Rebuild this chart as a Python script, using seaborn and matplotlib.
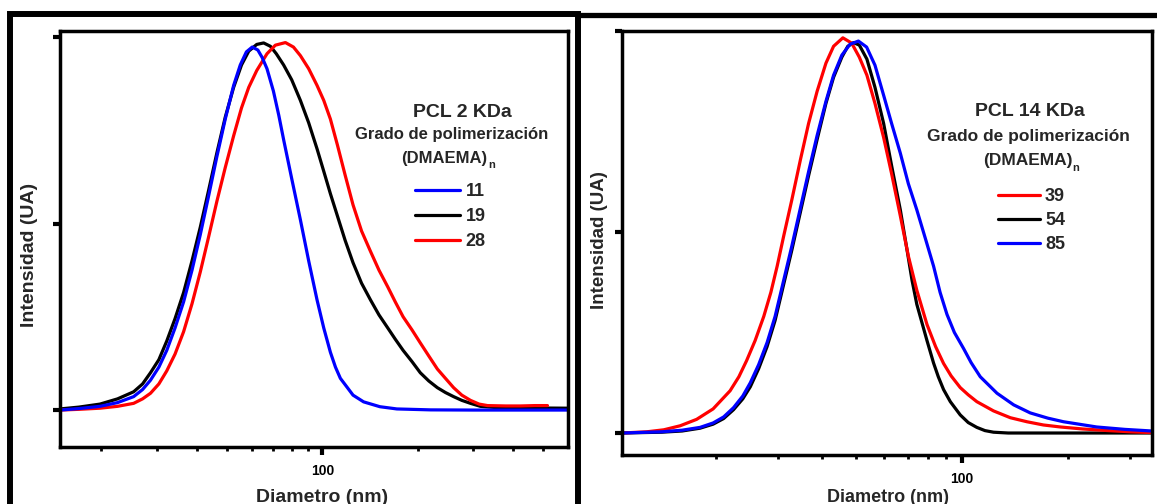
import numpy as np
import pandas as pd
import matplotlib
matplotlib.use("Agg")
import matplotlib.pyplot as plt
import seaborn as sns
from matplotlib.ticker import LogLocator, NullFormatter, FuncFormatter, FixedLocator
from matplotlib.lines import Line2D
from matplotlib.patches import Rectangle

# ---------------- data ----------------
# Left panel: PCL 2 KDa  (diameter nm, intensity a.u.)
d_11 = [14.8, 17.0, 19.8, 22.5, 25.3, 27.0, 28.6, 30.4, 32.2, 34.2, 36.4, 38.7, 41.1, 43.7, 46.4, 49.3,
        52.4, 55.0, 57.5, 60.0, 62.5, 64.5, 66.8, 70.0, 72.8, 75.4, 80.0, 85.2, 90.5, 96.2, 101, 106,
        110, 114, 120, 125, 135, 152, 172, 220, 300, 600]
i_11 = [0.0, 0.004, 0.010, 0.020, 0.036, 0.055, 0.080, 0.115, 0.16, 0.22, 0.29, 0.375, 0.47, 0.575, 0.68, 0.78,
        0.87, 0.925, 0.96, 0.973, 0.965, 0.945, 0.915, 0.855, 0.79, 0.725, 0.62, 0.51, 0.40, 0.295, 0.22, 0.155,
        0.115, 0.085, 0.06, 0.04, 0.022, 0.009, 0.003, 0.0005, 0.0, 0.0]

d_19 = [14.8, 17.0, 19.8, 22.5, 25.3, 27.0, 28.6, 30.4, 32.2, 34.2, 36.4, 38.7, 41.1, 43.7, 46.4, 49.3,
        52.4, 55.5, 58.5, 62.0, 65.2, 68.5, 71.5, 75.4, 80.0, 85.2, 90.5, 96.2, 101, 106, 111.6, 118,
        125, 133, 142, 151, 161, 170, 180, 192, 204, 217, 231, 245, 260, 276, 294, 316, 350, 400, 600]
i_19 = [0.003, 0.008, 0.016, 0.030, 0.049, 0.070, 0.10, 0.135, 0.185, 0.245, 0.315, 0.40, 0.49, 0.59, 0.69, 0.785,
        0.865, 0.925, 0.962, 0.98, 0.984, 0.975, 0.955, 0.925, 0.885, 0.83, 0.77, 0.70, 0.64, 0.58, 0.52, 0.455,
        0.395, 0.34, 0.295, 0.255, 0.22, 0.19, 0.16, 0.13, 0.10, 0.078, 0.06, 0.047, 0.036, 0.026, 0.018, 0.01,
        0.007, 0.006, 0.005]

d_28 = [14.8, 17.0, 19.8, 22.5, 25.3, 27.0, 28.6, 30.4, 32.2, 34.2, 36.4, 38.7, 41.1, 43.7, 46.4, 49.3,
        52.4, 55.5, 58.5, 62.0, 66.8, 71.0, 76.4, 81.0, 85.2, 90.5, 96.2, 101, 106, 111.6, 118, 125,
        133, 142, 151, 161, 170, 180, 192, 204, 217, 231, 245, 260, 276, 294, 313, 333, 380, 423, 470, 515]
i_28 = [0.0, 0.002, 0.005, 0.010, 0.018, 0.030, 0.045, 0.07, 0.105, 0.15, 0.21, 0.285, 0.37, 0.465, 0.56, 0.65,
        0.735, 0.81, 0.865, 0.91, 0.955, 0.978, 0.985, 0.973, 0.95, 0.915, 0.87, 0.83, 0.78, 0.71, 0.63, 0.55,
        0.48, 0.425, 0.375, 0.33, 0.29, 0.25, 0.215, 0.18, 0.145, 0.11, 0.085, 0.06, 0.04, 0.026, 0.016, 0.012,
        0.011, 0.011, 0.012, 0.012]

# Right panel: PCL 14 KDa
d_39 = [10.8, 12.7, 14.2, 15.8, 17.6, 19.6, 21.9, 23.2, 24.4, 25.8, 27.3, 28.6, 29.8, 31.1, 32.8, 34.7,
        36.6, 38.7, 41.0, 43.1, 45.8, 48.5, 51.0, 53.6, 56.5, 59.8, 63.0, 66.7, 70.3, 74.3, 79.4, 84.0,
        88.5, 93.0, 98.7, 104, 110, 122.7, 137, 152.7, 170, 190, 220, 260, 300, 346]
i_39 = [0.0, 0.003, 0.008, 0.018, 0.034, 0.06, 0.105, 0.14, 0.18, 0.23, 0.29, 0.35, 0.415, 0.49, 0.58, 0.68,
        0.77, 0.85, 0.92, 0.962, 0.983, 0.97, 0.935, 0.89, 0.82, 0.735, 0.645, 0.54, 0.44, 0.355, 0.27, 0.215,
        0.173, 0.142, 0.113, 0.095, 0.078, 0.055, 0.038, 0.028, 0.02, 0.015, 0.01, 0.006, 0.003, 0.001]

d_54 = [10.8, 14.0, 16.0, 18.0, 19.6, 21.0, 22.4, 23.8, 25.0, 26.4, 27.9, 29.4, 31.1, 32.8, 34.7, 36.6,
        38.7, 41.0, 43.1, 45.5, 47.3, 49.1, 51.0, 53.6, 56.5, 59.8, 63.0, 66.7, 69.7, 72.0, 74.3, 79.4,
        82.9, 85.5, 88.5, 92.5, 98.7, 104, 110, 116, 122.7, 135, 346]
i_54 = [0.0, 0.002, 0.005, 0.012, 0.022, 0.036, 0.058, 0.085, 0.115, 0.16, 0.215, 0.28, 0.37, 0.455, 0.55, 0.64,
        0.73, 0.82, 0.885, 0.935, 0.962, 0.971, 0.965, 0.93, 0.86, 0.77, 0.665, 0.555, 0.455, 0.38, 0.32, 0.23,
        0.174, 0.14, 0.108, 0.078, 0.045, 0.026, 0.014, 0.006, 0.002, 0.0, 0.0]

d_85 = [10.8, 14.0, 16.0, 18.0, 19.6, 21.0, 22.4, 23.8, 25.0, 26.4, 27.9, 29.4, 31.1, 32.8, 34.7, 36.6,
        38.7, 41.0, 43.1, 45.5, 48.0, 50.7, 53.5, 56.5, 59.8, 63.0, 66.7, 70.3, 74.3, 78.5, 82.9, 86.5,
        90.5, 95.0, 100.9, 106, 112.5, 125.5, 140, 156, 175, 194, 241, 290, 346]
i_85 = [0.0, 0.003, 0.007, 0.014, 0.025, 0.04, 0.063, 0.092, 0.125, 0.17, 0.225, 0.29, 0.38, 0.465, 0.56, 0.65,
        0.74, 0.825, 0.89, 0.94, 0.967, 0.975, 0.96, 0.915, 0.84, 0.77, 0.696, 0.62, 0.555, 0.485, 0.415, 0.35,
        0.295, 0.25, 0.21, 0.175, 0.14, 0.099, 0.07, 0.05, 0.037, 0.028, 0.015, 0.009, 0.005]

left_labels = ["11", "19", "28"]
right_labels = ["39", "54", "85"]

# ---------------- style ----------------
sns.set_theme(style="white")
plt.rcParams['font.family'] = ['Liberation Sans', 'DejaVu Sans']
plt.rcParams['font.weight'] = 'bold'
plt.rcParams['axes.labelweight'] = 'bold'

W, H = 1157, 504
fig = plt.figure(figsize=(W / 100, H / 100), dpi=100)
fig.patch.set_facecolor('white')


def fx(x):
    return x / W


def fy(y):
    return 1 - y / H


axL = fig.add_axes([fx(60), fy(447), fx(568) - fx(60), fy(31) - fy(447)])
axR = fig.add_axes([fx(622), fy(455), fx(1152) - fx(622), fy(31) - fy(455)])

LW = 2.3
colors = {"blue": "#0000FF", "black": "#000000", "red": "#FF0000"}

# Left panel curves (draw order: black, red, blue)
sns.lineplot(x=d_19, y=i_19, ax=axL, color=colors["black"], lw=LW, label=left_labels[1], sort=False, estimator=None)
sns.lineplot(x=d_28, y=i_28, ax=axL, color=colors["red"], lw=LW, label=left_labels[2], sort=False, estimator=None)
sns.lineplot(x=d_11, y=i_11, ax=axL, color=colors["blue"], lw=LW, label=left_labels[0], sort=False, estimator=None)

# Right panel curves
sns.lineplot(x=d_54, y=i_54, ax=axR, color=colors["black"], lw=LW, label=right_labels[1], sort=False, estimator=None)
sns.lineplot(x=d_39, y=i_39, ax=axR, color=colors["red"], lw=LW, label=right_labels[0], sort=False, estimator=None)
sns.lineplot(x=d_85, y=i_85, ax=axR, color=colors["blue"], lw=LW, label=right_labels[2], sort=False, estimator=None)


def style_axis(ax, xlim, ylim):
    ax.set_xscale('log')
    ax.set_xlim(*xlim)
    ax.set_ylim(*ylim)
    ax.set_xlabel('')
    ax.set_ylabel('')
    ax.xaxis.set_major_locator(FixedLocator([100]))
    ax.xaxis.set_major_formatter(FuncFormatter(lambda v, p: f"{v:g}"))
    ax.xaxis.set_minor_locator(LogLocator(base=10, subs=np.arange(2, 10)))
    ax.xaxis.set_minor_formatter(NullFormatter())
    ax.set_yticks([0, 0.5, 1.0])
    ax.tick_params(axis='y', which='major', direction='out', length=5, width=3, left=True,
                   labelleft=False, color='black')
    ax.tick_params(axis='x', which='major', direction='out', length=5.5, width=3, bottom=True,
                   labelsize=10, pad=7, color='black', labelcolor='black')
    ax.tick_params(axis='x', which='minor', direction='out', length=3, width=2, bottom=True, color='black')
    for s in ax.spines.values():
        s.set_visible(True)
        s.set_color('black')
        s.set_linewidth(2.5)
    ax.set_facecolor('white')


style_axis(axL, (14.8, 598), (-0.099, 1.016))
style_axis(axR, (10.8, 346), (-0.0547, 1.0))

# ---------------- legends ----------------
hL, lL = axL.get_legend_handles_labels()
orderL = [lL.index(x) for x in left_labels]
axL.legend([hL[i] for i in orderL], [lL[i] for i in orderL], loc='upper left',
           bbox_to_anchor=(fx(415), fy(183)), bbox_transform=fig.transFigure, frameon=False,
           borderpad=0, borderaxespad=0, handlelength=2.5, handletextpad=0.3, labelspacing=0.44,
           prop={'size': 13, 'weight': 'bold'})

hR, lR = axR.get_legend_handles_labels()
orderR = [lR.index(x) for x in right_labels]
axR.legend([hR[i] for i in orderR], [lR[i] for i in orderR], loc='upper left',
           bbox_to_anchor=(fx(998), fy(188)), bbox_transform=fig.transFigure, frameon=False,
           borderpad=0, borderaxespad=0, handlelength=2.3, handletextpad=0.3, labelspacing=0.39,
           prop={'size': 13, 'weight': 'bold'})

# titles within legends
fig.text(fx(462), fy(112.5), "PCL 2 KDa", ha='center', va='center', fontsize=14, fontweight='bold')
fig.text(fx(451.5), fy(135), "Grado de polimerización", ha='center', va='center', fontsize=12, fontweight='bold')
fig.text(fx(444), fy(158), "(DMAEMA)", ha='center', va='center', fontsize=12, fontweight='bold')
fig.text(fx(491.5), fy(165), "n", ha='center', va='center', fontsize=8, fontweight='bold')

fig.text(fx(1030), fy(112), "PCL 14 KDa", ha='center', va='center', fontsize=14, fontweight='bold')
fig.text(fx(1028), fy(137), "Grado de polimerización", ha='center', va='center', fontsize=12.5, fontweight='bold')
fig.text(fx(1028), fy(161), "(DMAEMA)", ha='center', va='center', fontsize=12.5, fontweight='bold')
fig.text(fx(1076), fy(168), "n", ha='center', va='center', fontsize=8, fontweight='bold')

# axis labels
fig.text(fx(30), fy(255), "Intensidad (UA)", rotation=90, ha='center', va='center', fontsize=14, fontweight='bold')
fig.text(fx(600), fy(240), "Intensidad (UA)", rotation=90, ha='center', va='center', fontsize=13.5, fontweight='bold')
fig.text(fx(322), fy(497), "Diametro (nm)", ha='center', va='center', fontsize=14, fontweight='bold')
fig.text(fx(888), fy(497), "Diametro (nm)", ha='center', va='center', fontsize=13, fontweight='bold')

# outer frames
fig.add_artist(Rectangle((fx(10), fy(600)), fx(578) - fx(10), fy(14) - fy(600), fill=False,
                         lw=4.3, edgecolor='black', transform=fig.transFigure))
fig.add_artist(Line2D([fx(580), fx(1170)], [fy(15), fy(15)], lw=3.8, color='black', transform=fig.transFigure))

fig.savefig("out.png", dpi=100, facecolor='white')
